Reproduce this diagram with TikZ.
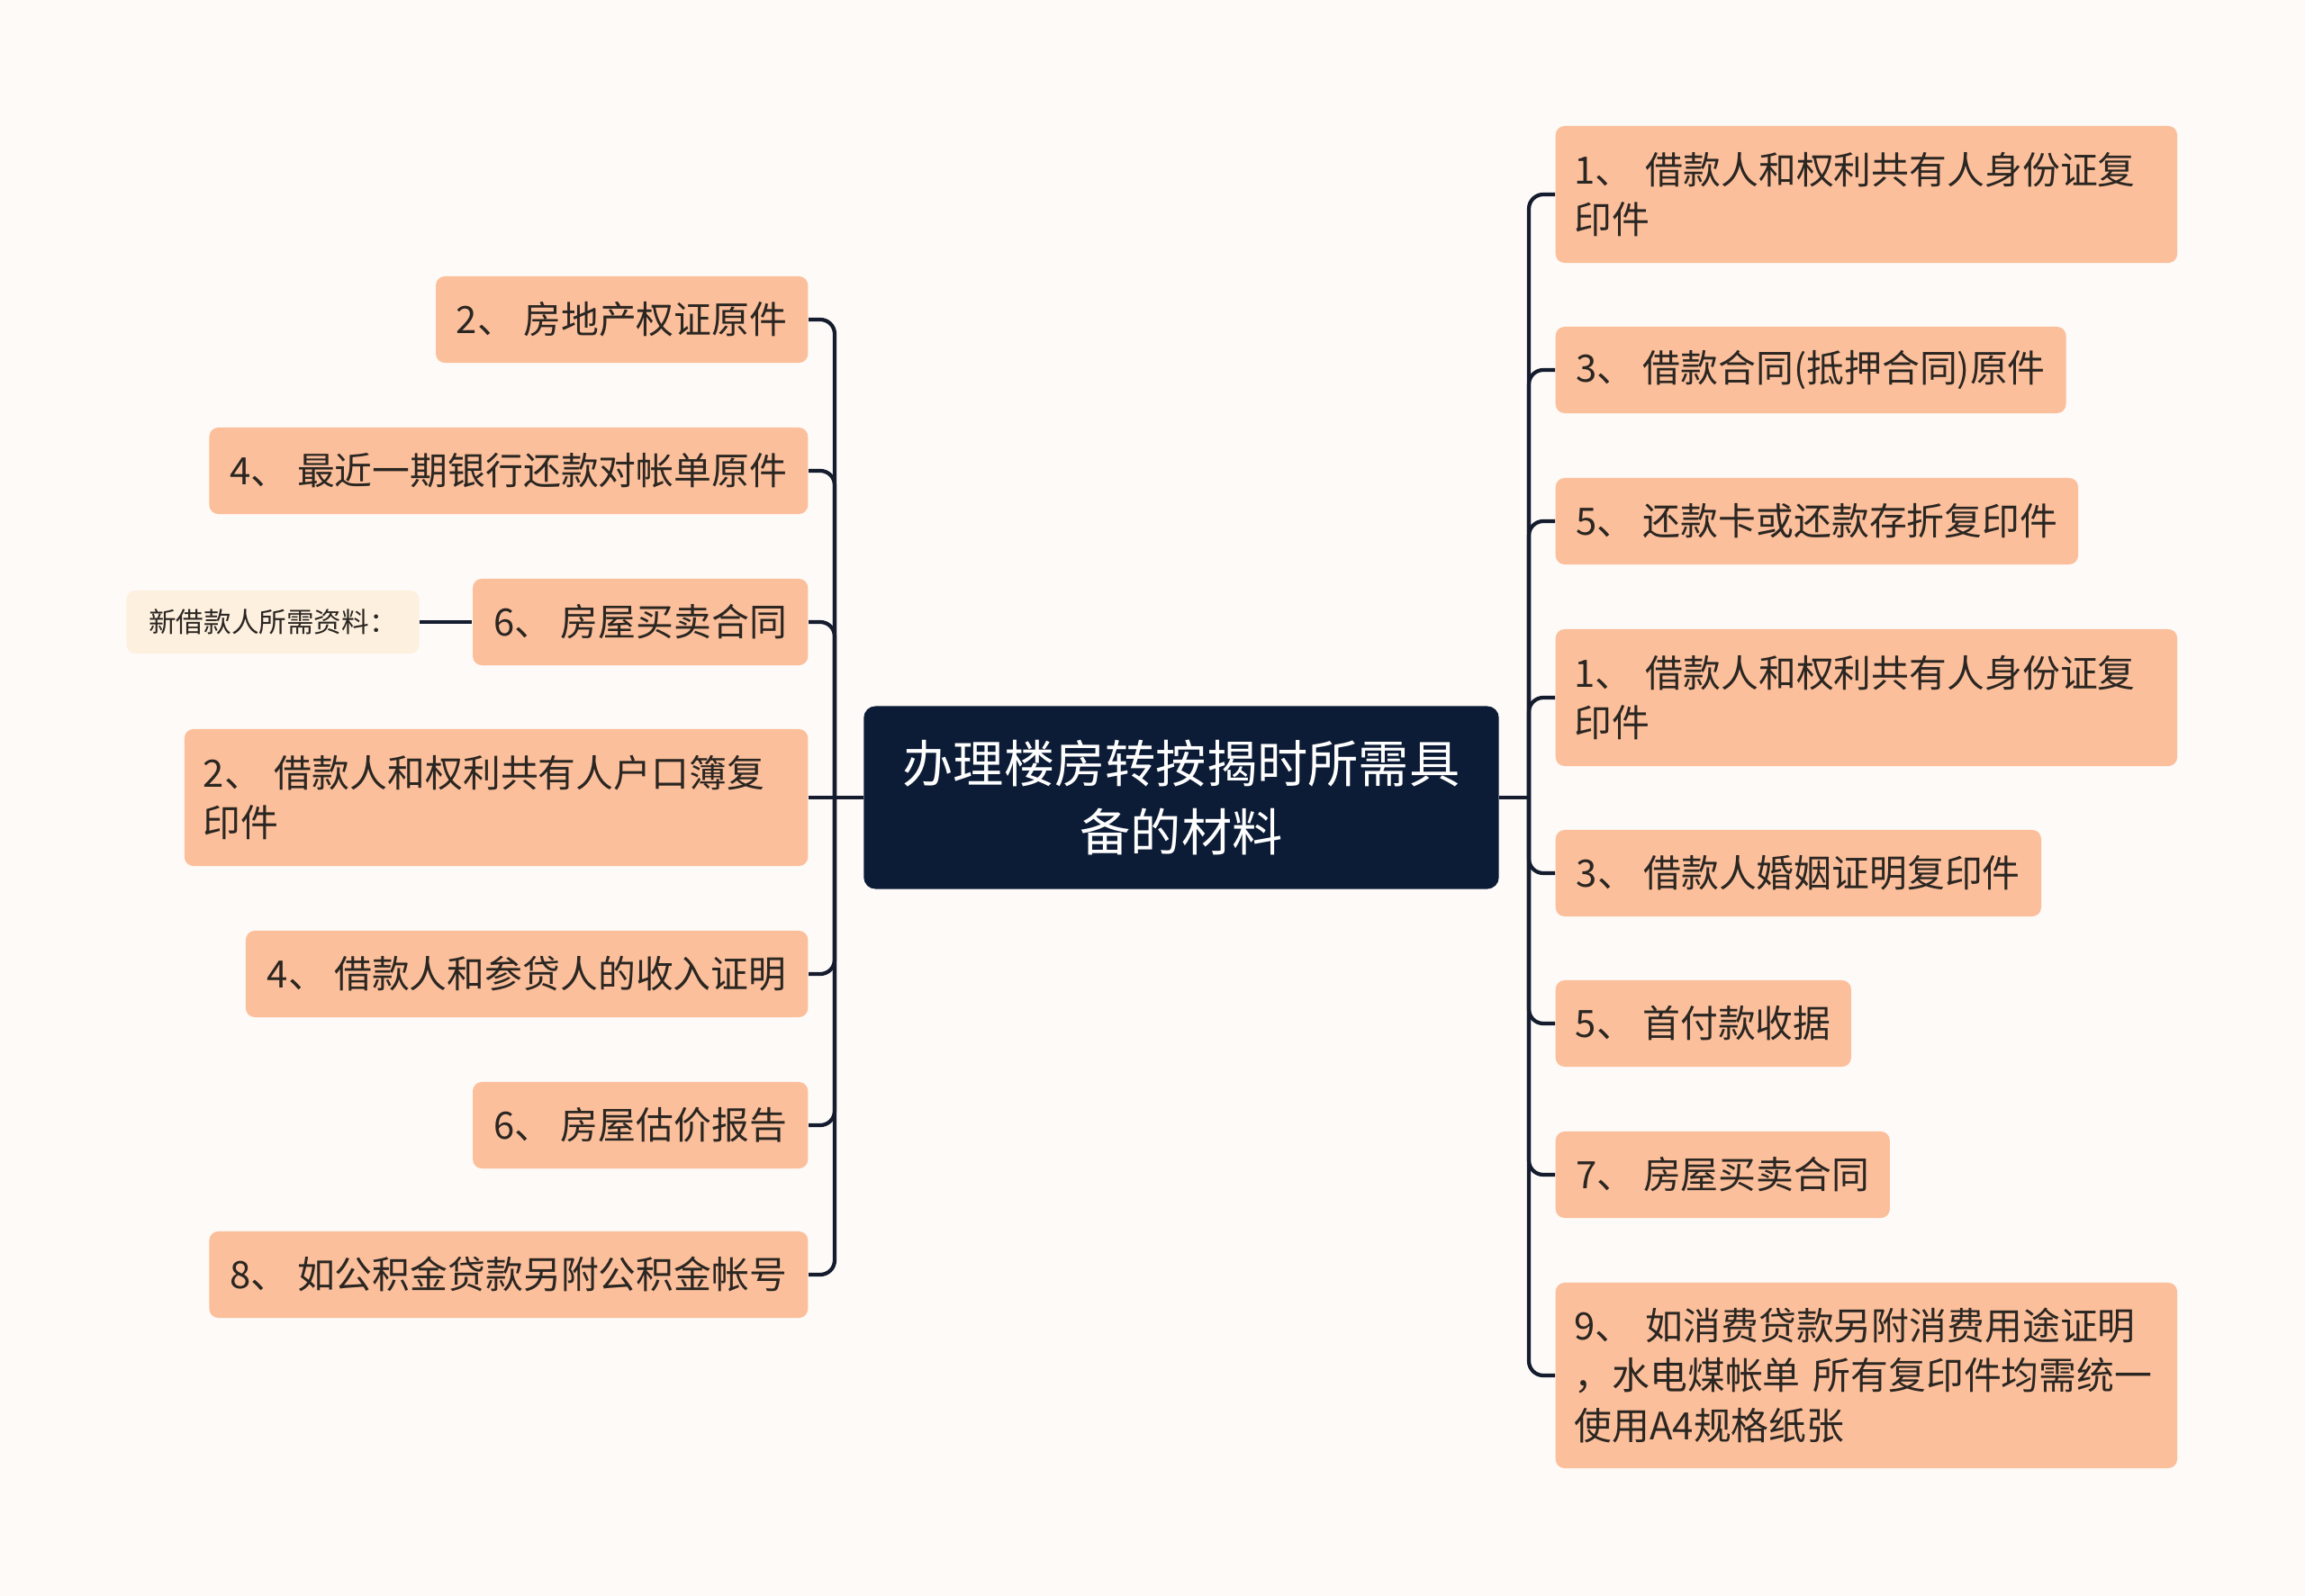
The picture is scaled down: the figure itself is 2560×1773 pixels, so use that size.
\documentclass[tikz,border=0pt]{standalone}
\usepackage{fontspec}
\setmainfont{Noto Sans CJK SC}
\usetikzlibrary{calc}
\definecolor{bgcol}{HTML}{FDFAF8}
\definecolor{peach}{HTML}{FCBF9B}
\definecolor{navy}{HTML}{0C1C36}
\definecolor{linecol}{HTML}{141C2E}
\definecolor{cream}{HTML}{FEF0DE}
\definecolor{txtcol}{HTML}{2A2622}

\begin{document}
\begin{tikzpicture}[x=0.01cm, y=-0.01cm,
	item/.style={fill=peach, text=txtcol, rounded corners=0.1cm, inner xsep=0pt, inner ysep=0pt,
		minimum height=0.96cm, minimum width=#1, font=\fontsize{11.9}{15.8}\selectfont},
	wide/.style={item=6.9cm, text width=6.48cm, align=left, inner xsep=0.21cm, minimum height=#1},
	root/.style={fill=navy, text=white, rounded corners=0.13cm, align=center, inner sep=0pt,
		minimum width=7.05cm, minimum height=2.03cm, font=\fontsize{16}{21.4}\selectfont},
	note/.style={fill=cream, text=txtcol, rounded corners=0.1cm, inner sep=0pt,
		minimum width=3.25cm, minimum height=0.70cm, font=\fontsize{8.7}{10}\selectfont},
	link/.style={draw=linecol, line width=1.2pt, rounded corners=0.16cm}]

	\fill[bgcol] (0,0) rectangle (2560,1773);
	\useasboundingbox (0,0) rectangle (2560,1773);

	\def\LX{898}
	\def\RX{1727}

	\node (root) [root] at (1312,886) {办理楼房转按揭时所需具\\备的材料};

	\node (l1) [item=4.13cm, anchor=east] at (\LX,355) {2、 房地产权证原件};
	\node (l2) [item=6.645cm, anchor=east] at (\LX,523) {4、 最近一期银行还款对帐单原件};
	\node (l3) [item=3.72cm, anchor=east] at (\LX,691) {6、 房屋买卖合同};
	\node (l3a) [note] at (303,691) {新借款人所需资料：};
	\node (l4) [wide=1.52cm, text width=6.5cm, anchor=east] at (\LX,886) {2、 借款人和权利共有人户口簿复\\印件};
	\node (l5) [item=6.24cm, anchor=east] at (\LX,1082) {4、 借款人和参贷人的收入证明};
	\node (l6) [item=3.72cm, anchor=east] at (\LX,1250) {6、 房屋估价报告};
	\node (l7) [item=6.645cm, anchor=east] at (\LX,1416) {8、 如公积金贷款另附公积金帐号};

	\node (r1) [wide=1.52cm, anchor=west] at (\RX,216) {1、 借款人和权利共有人身份证复\\印件};
	\node (r2) [item=5.665cm, anchor=west] at (\RX,411) {3、 借款合同(抵押合同)原件};
	\node (r3) [item=5.8cm, anchor=west] at (\RX,579) {5、 还款卡或还款存折复印件};
	\node (r4) [wide=1.52cm, anchor=west] at (\RX,775) {1、 借款人和权利共有人身份证复\\印件};
	\node (r5) [item=5.39cm, anchor=west] at (\RX,970) {3、 借款人婚姻证明复印件};
	\node (r6) [item=3.28cm, anchor=west] at (\RX,1137) {5、 首付款收据};
	\node (r7) [item=3.71cm, anchor=west] at (\RX,1305) {7、 房屋买卖合同};
	\node (r8) [wide=2.06cm, anchor=west] at (\RX,1528) {9、 如消费贷款另附消费用途证明\\，水电煤帐单~所有复印件均需统一\\使用A4规格纸张};

	\coordinate (lj) at (927,886);
	\coordinate (rj) at (1698,886);

	\draw[link] (root.west) -- (l4.east);
	\foreach \n in {l1,l2,l3,l5,l6,l7}
		\draw[link] (\n.east) -| (lj);
	\draw[link] (root.east) -- (rj);
	\foreach \n in {r1,r2,r3,r4,r5,r6,r7,r8}
		\draw[link] (rj) |- (\n.west);
	\draw[link] (l3a) -- (l3);
\end{tikzpicture}
\end{document}
